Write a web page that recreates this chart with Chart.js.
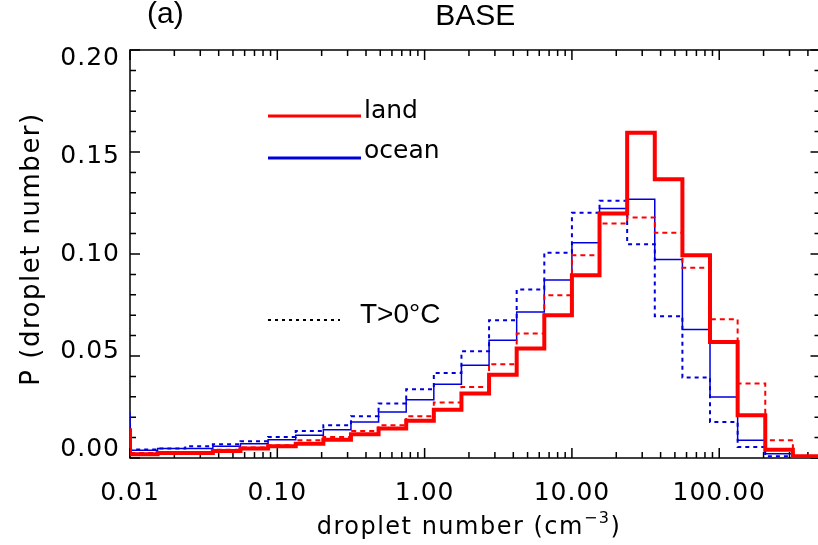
<!DOCTYPE html>
<html>
<head>
<meta charset="utf-8">
<title>BASE - droplet number</title>
<script src="https://cdn.jsdelivr.net/npm/chart.js@4.4.1/dist/chart.umd.min.js"></script>
<style>
  html, body { margin: 0; padding: 0; background: #fff; overflow: hidden; }
  #wrap { width: 830px; height: 545px; }
</style>
</head>
<body>
<div id="wrap"><canvas id="histChart" width="830" height="545"></canvas></div>
<script>
// bin edges in cm^-3 (3/16 decade each); the first bin is the underflow below 0.01
const binEdges = [
    0.006494, 0.01, 0.015399, 0.023714, 0.036517, 0.056234, 0.086596,
    0.13335, 0.20535, 0.31623, 0.48697, 0.74989, 1.1548, 1.7783, 2.7384,
    4.2170, 6.4938, 10.0, 15.399, 23.714, 36.517, 56.234, 86.596,
    133.35, 205.35, 316.23, 486.97
];

// probability per bin (underflow first)
const landAll = [
    0.0136, 0.0018, 0.0025, 0.0025, 0.0034, 0.0046, 0.0057, 0.0070, 0.0090,
    0.0116, 0.0144, 0.0182, 0.0237, 0.0316, 0.0408, 0.0537, 0.0700, 0.0896,
    0.1199, 0.1594, 0.1366, 0.0994, 0.0569, 0.0209, 0.0041, 0.0008
];
const oceanAll = [
    0.0220, 0.0038, 0.0046, 0.0046, 0.0057, 0.0070, 0.0090, 0.0111, 0.0139,
    0.0177, 0.0226, 0.0286, 0.0362, 0.0455, 0.0577, 0.0716, 0.0872, 0.1055,
    0.1223, 0.1268, 0.0973, 0.0630, 0.0299, 0.0087, 0.0021, 0.0005
];
const landWarm = [
    0.0110, 0.0025, 0.0029, 0.0029, 0.0041, 0.0051, 0.0062, 0.0087, 0.0103,
    0.0132, 0.0160, 0.0205, 0.0272, 0.0348, 0.0460, 0.0610, 0.0798, 0.0994,
    0.1150, 0.1179, 0.1104, 0.0932, 0.0680, 0.0365, 0.0087, 0.0010
];
const oceanWarm = [
    0.0190, 0.0042, 0.0046, 0.0057, 0.0067, 0.0082, 0.0103, 0.0132, 0.0160,
    0.0205, 0.0267, 0.0337, 0.0417, 0.0523, 0.0675, 0.0826, 0.1006, 0.1202,
    0.1261, 0.1048, 0.0695, 0.0394, 0.0177, 0.0054, 0.0008, 0.0002
];

const xTicks = [0.01, 0.1, 1, 10, 100];
const yTicks = [0, 0.05, 0.10, 0.15, 0.20];

const RED = '#ff0000';
const BLUE = '#0000dd';

// histogram outline: each point sits on a bin's left edge, stepped 'before'
const toSteps = (vals) => {
    const pts = vals.map((v, i) => ({ x: binEdges[i], y: v }));
    pts.push({ x: binEdges[vals.length], y: vals[vals.length - 1] });
    return pts;
};

// frame with inward ticks, y labels, titles and the hand-made legend
const frameAndText = {
    id: 'frameAndText',
    beforeDraw(chart) {
        chart.ctx.letterSpacing = '1px';
    },
    beforeDatasetsDraw(chart) {
        const { ctx, chartArea: a, scales: { x, y } } = chart;
        ctx.save();
        ctx.strokeStyle = '#000';
        ctx.lineWidth = 1.5;
        ctx.strokeRect(a.left, a.top, a.right - a.left, a.bottom - a.top);

        ctx.beginPath();
        let dec = 0.01;
        for (let e = 0; e < 5; e++) {
            for (let m = 1; m <= 9; m++) {
                const v = m * dec;
                if (v > x.max) break;
                const px = x.getPixelForValue(v);
                const len = m === 1 ? 10 : 6;
                ctx.moveTo(px, a.bottom); ctx.lineTo(px, a.bottom - len);
                ctx.moveTo(px, a.top); ctx.lineTo(px, a.top + len);
            }
            dec *= 10;
        }
        for (let i = 0; i <= 20; i++) {
            const py = y.getPixelForValue(i / 100);
            const len = i % 5 === 0 ? 10 : 6;
            ctx.moveTo(a.left, py); ctx.lineTo(a.left + len, py);
            ctx.moveTo(a.right, py); ctx.lineTo(a.right - len, py);
        }
        ctx.stroke();
        ctx.restore();
    },
    afterDraw(chart) {
        const { ctx, chartArea: a, scales: { y } } = chart;
        ctx.save();
        ctx.fillStyle = '#000';
        ctx.letterSpacing = '1px';

        // y tick labels, spread slightly towards the middle
        ctx.font = '25px "DejaVu Sans"';
        ctx.textAlign = 'right';
        ctx.textBaseline = 'middle';
        yTicks.forEach(v => {
            const py = y.getPixelForValue(v) + (v - 0.1) * 85;
            ctx.fillText(v.toFixed(2), a.left - 10, py);
        });

        // titles
        ctx.letterSpacing = '0px';
        ctx.textBaseline = 'alphabetic';
        ctx.font = '30px "Liberation Sans"';
        ctx.textAlign = 'left';
        ctx.fillText('(a)', 147, 23);
        ctx.textAlign = 'center';
        ctx.fillText('BASE', (a.left + a.right) / 2, 25);

        // x axis title with superscript
        ctx.letterSpacing = '1.5px';
        ctx.textAlign = 'left';
        const main = 'droplet number (cm';
        ctx.font = '24px "DejaVu Sans"';
        const w1 = ctx.measureText(main).width;
        ctx.font = '16px "DejaVu Sans"';
        const w2 = ctx.measureText('\u22123').width;
        ctx.font = '24px "DejaVu Sans"';
        const w3 = ctx.measureText(')').width;
        let tx = 469 - (w1 + w2 + w3) / 2;
        ctx.fillText(main, tx, 534);
        tx += w1;
        ctx.font = '16px "DejaVu Sans"';
        ctx.fillText('\u22123', tx, 523);
        tx += w2;
        ctx.font = '24px "DejaVu Sans"';
        ctx.fillText(')', tx, 534);

        // y axis title
        ctx.save();
        ctx.translate(32, 249);
        ctx.rotate(-Math.PI / 2);
        ctx.textAlign = 'center';
        ctx.textBaseline = 'middle';
        ctx.font = '26px "DejaVu Sans"';
        ctx.fillText('P (droplet number)', 0, 0);
        ctx.restore();

        // legend
        ctx.letterSpacing = '0px';
        ctx.lineWidth = 3;
        ctx.strokeStyle = RED;
        ctx.beginPath(); ctx.moveTo(268, 116); ctx.lineTo(361, 116); ctx.stroke();
        ctx.strokeStyle = BLUE;
        ctx.beginPath(); ctx.moveTo(268, 158); ctx.lineTo(361, 158); ctx.stroke();
        ctx.strokeStyle = '#000';
        ctx.lineWidth = 2;
        ctx.setLineDash([3, 4]);
        ctx.beginPath(); ctx.moveTo(268, 320); ctx.lineTo(340, 320); ctx.stroke();
        ctx.setLineDash([]);

        ctx.textAlign = 'left';
        ctx.font = '25px "DejaVu Sans"';
        ctx.fillText('land', 364, 118);
        ctx.fillText('ocean', 364, 158);
        ctx.font = '28px "Liberation Sans"';
        ctx.fillText('T>0\u00B0C', 360, 323);
        ctx.restore();
    }
};

const makeSet = (label, vals, color, width, dash) => ({
    label: label,
    data: toSteps(vals),
    borderColor: color,
    borderWidth: width,
    borderDash: dash,
    stepped: 'before',
    pointRadius: 0,
    fill: false
});

const renderChart = () => {
    const ctx = document.getElementById('histChart').getContext('2d');
    new Chart(ctx, {
        type: 'line',
        data: {
            datasets: [
                makeSet('land', landAll, RED, 4, []),
                makeSet('land T>0', landWarm, RED, 2, [5, 4]),
                makeSet('ocean', oceanAll, BLUE, 1.5, []),
                makeSet('ocean T>0', oceanWarm, BLUE, 2, [4, 4])
            ]
        },
        options: {
            responsive: false,
            animation: false,
            devicePixelRatio: 1,
            layout: { padding: { top: 50, right: 9.5, left: 0, bottom: 0 } },
            plugins: {
                legend: { display: false },
                tooltip: { enabled: false }
            },
            scales: {
                x: {
                    type: 'logarithmic',
                    min: binEdges[1],
                    max: binEdges[binEdges.length - 1],
                    grid: { display: false },
                    border: { display: false },
                    afterBuildTicks: (scale) => {
                        scale.ticks = xTicks.map(v => ({ value: v, major: true }));
                    },
                    afterFit: (scale) => { scale.height = 87; },
                    ticks: {
                        autoSkip: false,
                        maxRotation: 0,
                        padding: 12,
                        color: '#000',
                        font: { family: 'DejaVu Sans', size: 25 },
                        callback: (v) => Number(v).toFixed(2)
                    }
                },
                y: {
                    min: 0,
                    max: 0.2,
                    grid: { display: false },
                    border: { display: false },
                    ticks: { display: false },
                    afterFit: (scale) => { scale.width = 130; }
                }
            }
        },
        plugins: [frameAndText]
    });
};

document.addEventListener('DOMContentLoaded', renderChart);
</script>
</body>
</html>
